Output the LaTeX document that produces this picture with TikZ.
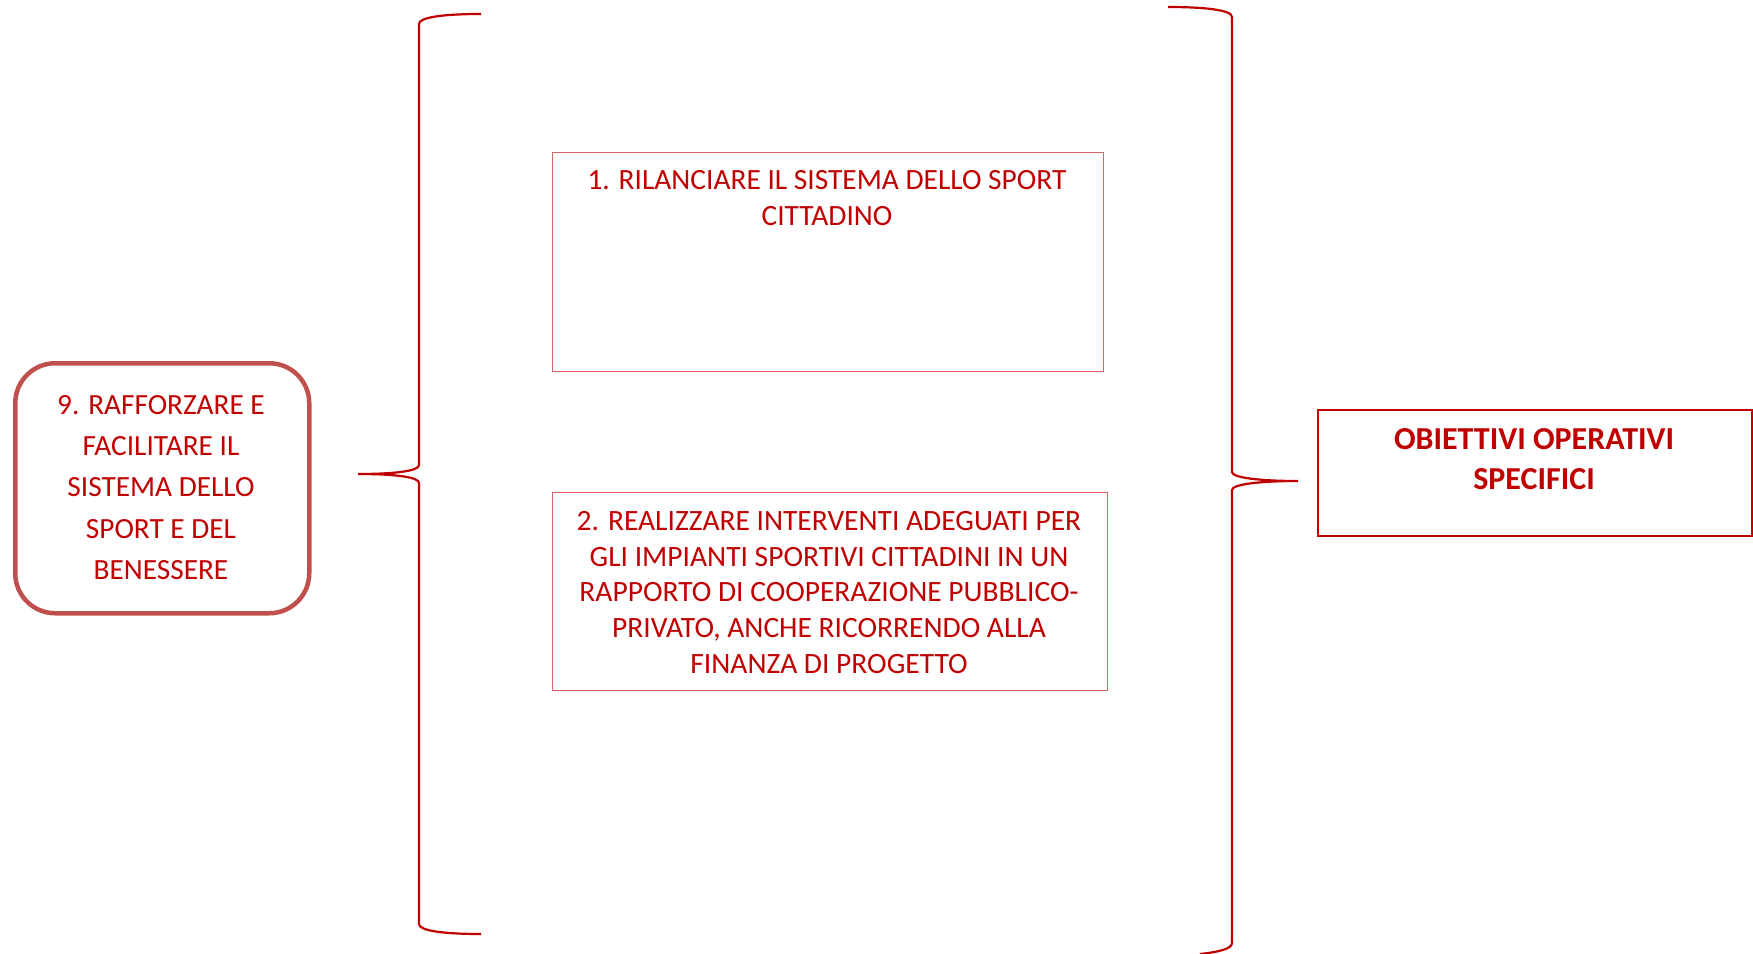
\documentclass[tikz,border=0pt]{standalone}
\usepackage{fontspec}
\setmainfont{Carlito}
\definecolor{txtred}{RGB}{192,0,0}
\definecolor{boxred}{RGB}{192,80,77}
\definecolor{thinred}{RGB}{217,100,100}
\begin{document}
\begin{tikzpicture}[x=1pt,y=-1pt,
  txt/.style={text=txtred, align=center, inner sep=0pt},
  brace/.style={draw=txtred, line width=2.2pt},
  thinbox/.style={draw=thinred, line width=1.3pt, anchor=north west, inner sep=0pt},
]
\useasboundingbox (0,0) rectangle (1753,953);
% left rounded box
\node[draw=boxred, line width=4.5pt, rounded corners=40pt, anchor=north west,
      minimum width=294pt, minimum height=250pt, inner sep=0pt] (goal) at (13,361) {};
\node[txt, font=\fontsize{29.3}{41.2}\selectfont] (goaltxt) at (161,487.5)
  {9. RAFFORZARE E\\FACILITARE IL\\SISTEMA DELLO\\SPORT E DEL\\BENESSERE};
% box 1
\node[thinbox, minimum width=551pt, minimum height=219pt] (b1) at (552,152) {};
\node[txt, font=\fontsize{29.4}{36}\selectfont] (b1txt) at (827,198)
  {1. RILANCIARE IL SISTEMA DELLO SPORT\\CITTADINO};
% box 2
\node[thinbox, minimum width=555pt, minimum height=198pt] (b2) at (552,492) {};
\node[txt, font=\fontsize{29.5}{35.8}\selectfont] (b2txt) at (829,592.5)
  {2. REALIZZARE INTERVENTI ADEGUATI PER\\GLI IMPIANTI SPORTIVI CITTADINI IN UN\\RAPPORTO DI COOPERAZIONE PUBBLICO-\\PRIVATO, ANCHE RICORRENDO ALLA\\FINANZA DI PROGETTO};
% right box
\node[draw=txtred, line width=2pt, anchor=north west, minimum width=434pt,
      minimum height=126pt, inner sep=0pt] (obj) at (1317,409) {};
\node[txt, font=\fontsize{32}{39.5}\selectfont\bfseries] (objtxt) at (1534,459)
  {OBIETTIVI OPERATIVI\\SPECIFICI};
% left brace
\coordinate (ltip) at (358,474);
\draw[brace] (481,14) .. controls (445,14) and (419,17) .. (419,24)
  -- (419,465) .. controls (419,471) and (395,474) .. (ltip)
  .. controls (395,474) and (419,477) .. (419,483)
  -- (419,924) .. controls (419,931) and (445,934) .. (481,934);
% right brace
\coordinate (rtip) at (1298,481);
\draw[brace] (1168,7) .. controls (1205,7) and (1232,10) .. (1232,17)
  -- (1232,472) .. controls (1232,478) and (1262,481) .. (rtip)
  .. controls (1262,481) and (1232,484) .. (1232,490)
  -- (1232,943) .. controls (1232,949) and (1218,952) .. (1200,954);
\end{tikzpicture}
\end{document}
